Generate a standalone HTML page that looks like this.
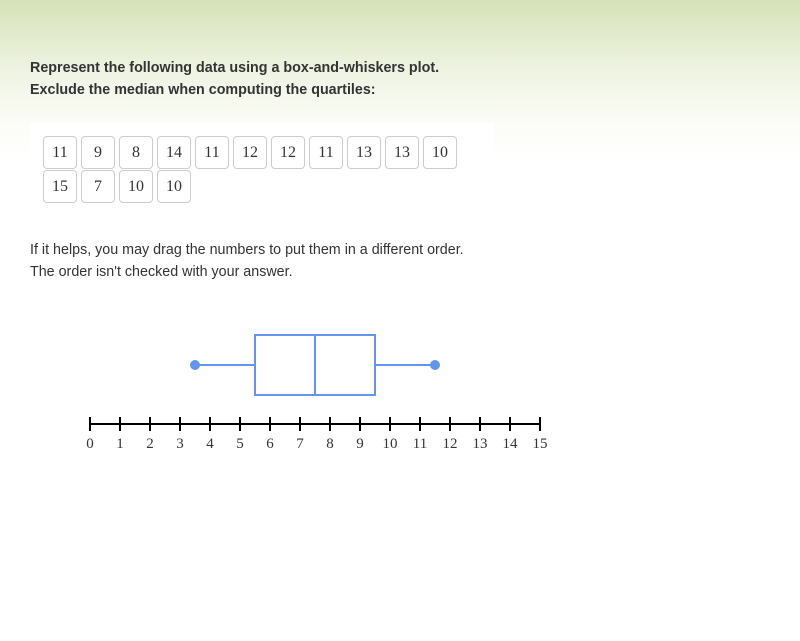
<!DOCTYPE html>
<html><head><meta charset="utf-8"><style>
body{margin:0;width:800px;height:641px;overflow:hidden;background:linear-gradient(#d6e2b8 0px,#eef3e2 70px,#fbfcf7 120px,#fff 160px);font-family:"Liberation Sans",sans-serif;position:relative}
.q{position:absolute;left:30px;font-size:14.3px;font-weight:bold;color:#333}
.p{position:absolute;left:30px;font-size:14.3px;color:#333}
#panel{position:absolute;left:30px;top:123px;width:464px;height:86px;background:#fff}
.t{position:absolute;width:32px;height:31px;border:1px solid #ccc;border-radius:4px;background:#fff;font-family:"Liberation Serif",serif;font-size:16px;color:#333;text-align:center;line-height:31px}
</style></head><body>
<div class="q" style="top:60px">Represent the following data using a box-and-whiskers plot.</div>
<div class="q" style="top:82px">Exclude the median when computing the quartiles:</div>
<div id="panel"></div>
<div class="p" style="top:242px">If it helps, you may drag the numbers to put them in a different order.</div>
<div class="p" style="top:264px">The order isn't checked with your answer.</div>
<svg id="chart" width="800" height="641" style="position:absolute;left:0;top:0"></svg>
<script>
const tiles=[11,9,8,14,11,12,12,11,13,13,10,15,7,10,10];
const stats=[3.5,5.5,7.5,9.5,11.5]; // min,q1,median,q3,max
const ticks=[0,1,2,3,4,5,6,7,8,9,10,11,12,13,14,15];
tiles.forEach((v,i)=>{const d=document.createElement('div');d.className='t';
const r=i<11?0:1,c=i<11?i:i-11;d.style.left=(43+c*38)+'px';d.style.top=(136+r*34)+'px';d.textContent=v;


document.body.appendChild(d);});
const ns='http://www.w3.org/2000/svg',svg=document.getElementById('chart');
const X=v=>90+v*30;
function el(t,a,name){const e=document.createElementNS(ns,t);for(const k in a)e.setAttribute(k,a[k]);


svg.appendChild(e);return e;}
el('line',{x1:X(ticks[0]),x2:X(ticks[ticks.length-1]),y1:424,y2:424,stroke:'#000','stroke-width':2},'x-axis');
ticks.forEach(t=>{el('line',{x1:X(t),x2:X(t),y1:417,y2:431,stroke:'#000','stroke-width':2},'axis-tick');
const tx=el('text',{x:X(t),y:448,'text-anchor':'middle','font-family':'Liberation Serif, serif','font-size':15,fill:'#333'},'tick-label');tx.textContent=t;});
const c='#6495ed',yT=335,yB=395,yM=365;
el('line',{x1:X(stats[0]),x2:X(stats[1]),y1:yM,y2:yM,stroke:c,'stroke-width':2},'left-whisker');
el('line',{x1:X(stats[3]),x2:X(stats[4]),y1:yM,y2:yM,stroke:c,'stroke-width':2},'right-whisker');
el('rect',{x:X(stats[1]),y:yT,width:X(stats[3])-X(stats[1]),height:yB-yT,fill:'none',stroke:c,'stroke-width':2},'box');
el('line',{x1:X(stats[2]),x2:X(stats[2]),y1:yT,y2:yB,stroke:c,'stroke-width':2},'median-line');
const h1=el('circle',{cx:X(stats[0]),cy:yM,r:5,fill:c},'min-handle');
const h2=el('circle',{cx:X(stats[4]),cy:yM,r:5,fill:c},'max-handle');
</script>
</body></html>
